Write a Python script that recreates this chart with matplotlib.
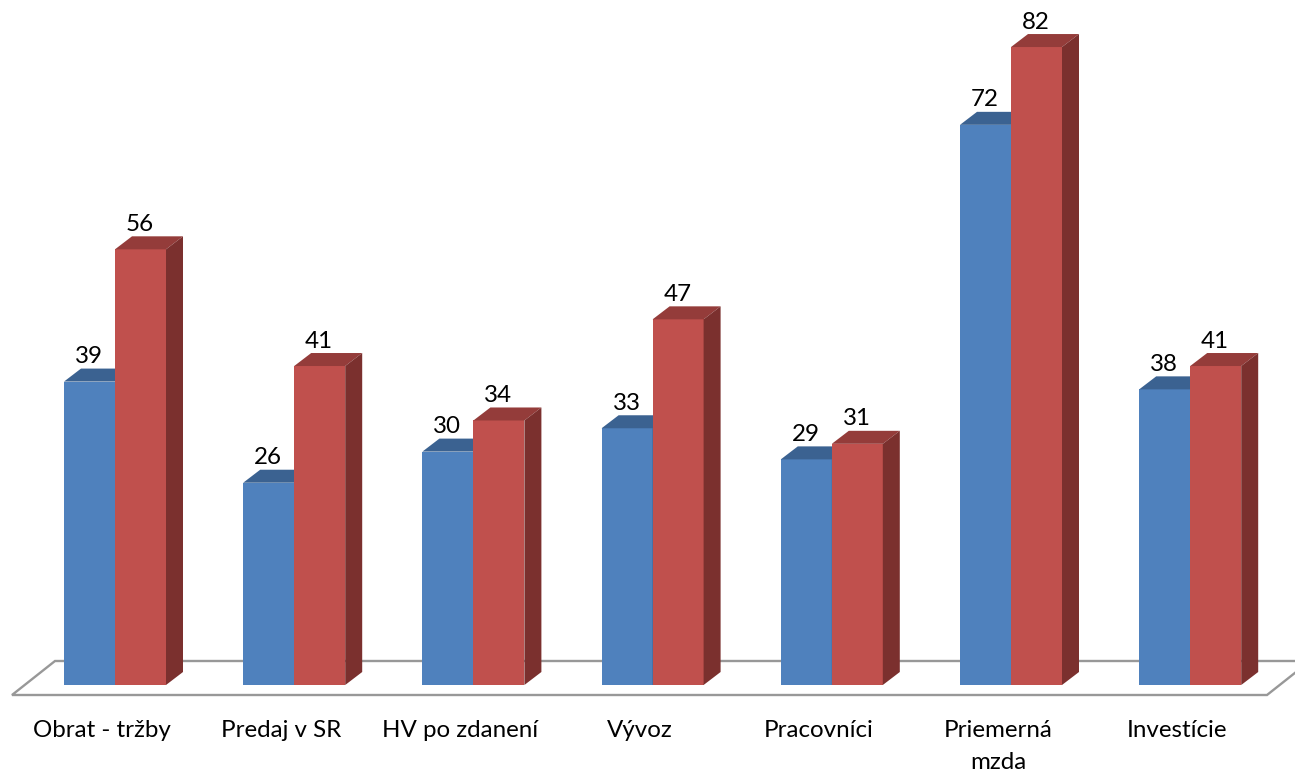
"""Grouped pseudo-3D column chart with a floor plate."""

import matplotlib

matplotlib.use("Agg")
import matplotlib.pyplot as plt
from matplotlib.patches import Polygon


CATEGORIES = [
    "Obrat - tržby",
    "Predaj v SR",
    "HV po zdanení",
    "Vývoz",
    "Pracovníci",
    "Priemerná\nmzda",
    "Investície",
]
SERIES_BLUE = [39, 26, 30, 33, 29, 72, 38]
SERIES_RED = [56, 41, 34, 47, 31, 82, 41]

COLORS_BLUE = ("#4f81bd", "#3b6291", "#385d8a")
COLORS_RED = ("#c0504d", "#943c3a", "#7b302e")

# pixel geometry of the picture
WIDTH, HEIGHT = 1295, 772
PX_X = 179.2  # px per category
PX_Y = 7.78  # px per value unit
ORIGIN_X, ORIGIN_Y = 115, 685

BAR_W = 51 / PX_X
DEPTH_X = 17 / PX_X
DEPTH_Y = 13 / PX_Y
FONT_SIZE = 17.4


def px_x(px):
    return (px - ORIGIN_X) / PX_X


def px_y(px):
    return (ORIGIN_Y - px) / PX_Y


def draw_bars(ax, x_left, values, colors):
    front, top, side = colors
    ax.bar(x_left, values, width=BAR_W, align="edge", color=front, linewidth=0)
    for x0, value in zip(x_left, values):
        x1 = x0 + BAR_W
        ax.add_patch(Polygon(
            [(x0, value), (x1, value), (x1 + DEPTH_X, value + DEPTH_Y), (x0 + DEPTH_X, value + DEPTH_Y)],
            color=top, linewidth=0,
        ))
        ax.add_patch(Polygon(
            [(x1, 0), (x1 + DEPTH_X, DEPTH_Y), (x1 + DEPTH_X, value + DEPTH_Y), (x1, value)],
            color=side, linewidth=0,
        ))
        ax.text(x0 + 25 / PX_X, value + 25 / PX_Y, str(value), ha="center", va="center",
                fontsize=FONT_SIZE, color="black")


plt.rcParams["font.family"] = ["Lato", "DejaVu Sans"]

fig = plt.figure(figsize=(WIDTH / 100, HEIGHT / 100), dpi=100)
ax = fig.add_axes([0, 0, 1, 1])
ax.set_xlim(px_x(0), px_x(WIDTH))
ax.set_ylim(px_y(HEIGHT), px_y(0))
ax.axis("off")

# floor plate
floor = [(12, 695), (1267, 695), (1310, 661), (55, 661)]
ax.add_patch(Polygon(
    [(px_x(a), px_y(b)) for a, b in floor],
    closed=True, facecolor="white", edgecolor="#989898", linewidth=1.7, joinstyle="miter",
))

positions = list(range(len(CATEGORIES)))
draw_bars(ax, [i - BAR_W for i in positions], SERIES_BLUE, COLORS_BLUE)
draw_bars(ax, positions, SERIES_RED, COLORS_RED)

for i, name in zip(positions, CATEGORIES):
    ax.text(i - 13 / PX_X, px_y(720), name, ha="center", va="top", fontsize=FONT_SIZE,
            color="black", linespacing=1.66)

fig.savefig("out.png", dpi=100)
plt.close(fig)
